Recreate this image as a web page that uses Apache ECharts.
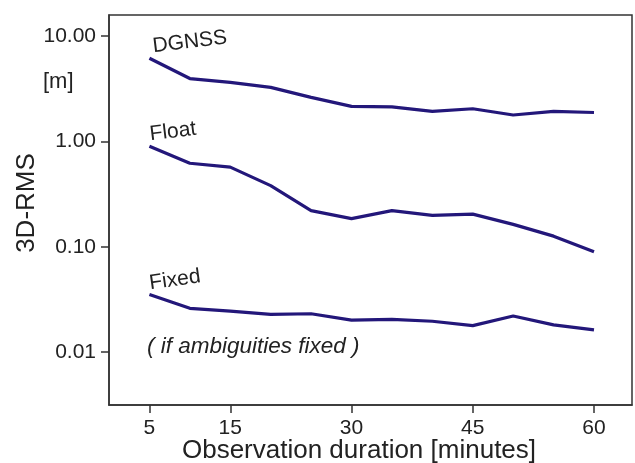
<!DOCTYPE html>
<html><head><meta charset="utf-8">
<script src="https://cdn.jsdelivr.net/npm/echarts@6/dist/echarts.min.js"></script>
<style>html,body{margin:0;padding:0;background:#fff}#c{width:635px;height:463px}</style>
</head><body><div id="c"></div>
<script>
const durations = [5,10,15,20,25,30,35,40,45,50,55,60];
const dgnss = [6.15,3.95,3.63,3.26,2.62,2.15,2.13,1.93,2.04,1.78,1.93,1.88];
const floatSol = [0.90,0.62,0.57,0.38,0.22,0.185,0.22,0.198,0.204,0.163,0.126,0.0896];
const fixedSol = [0.0352,0.026,0.0245,0.0228,0.0231,0.0201,0.0204,0.0196,0.0178,0.0220,0.0181,0.0162];
const xTicks = [5,15,30,45,60];
const yTicks = [0.01,0.1,1,10];
const FONT = 'Liberation Sans';
const C = '#23177a';
const chart = echarts.init(document.getElementById('c'));
const mk = (name, vals) => ({
  name, type:'line', data: durations.map((d,i)=>[d,vals[i]]),
  showSymbol:false, symbol:'none', smooth:false,
  lineStyle:{color:C,width:3.2}, itemStyle:{color:C}, animation:false
});
chart.setOption({
  animation:false,
  grid:{left:109,top:15,right:3,bottom:58,containLabel:false,outerBoundsMode:'none',
    show:true,borderColor:'#333',borderWidth:1.5},
  xAxis:{type:'value',min:0,max:64.7,
    axisLine:{show:true,lineStyle:{color:'#333',width:1.5}},
    axisTick:{show:true,length:8,customValues:xTicks,lineStyle:{color:'#333',width:1.5}},
    axisLabel:{customValues:xTicks,fontFamily:FONT,fontSize:21,color:'#222',margin:13},
    splitLine:{show:false}},
  yAxis:{type:'log',logBase:10,min:Math.pow(10,-2.503),max:Math.pow(10,1.2),
    axisLine:{show:true,lineStyle:{color:'#333',width:1.5}},
    axisTick:{show:true,length:8,customValues:yTicks,lineStyle:{color:'#333',width:1.5}},
    axisLabel:{customValues:yTicks,fontFamily:FONT,fontSize:21,color:'#222',margin:13,
      formatter:v=>Number(v).toFixed(2)},
    splitLine:{show:false},minorTick:{show:false}},
  graphic:[
    {type:'text',x:359,y:451,style:{text:'Observation duration [minutes]',font:'26px '+FONT,fill:'#222',textAlign:'center',textVerticalAlign:'middle'}},
    {type:'text',x:27,y:203,rotation:Math.PI/2,style:{text:'3D-RMS',font:'26px '+FONT,fill:'#222',textAlign:'center',textVerticalAlign:'middle'}},
    {type:'text',left:43,top:71,style:{text:'[m]',font:'22px '+FONT,fill:'#222'}},
    {type:'text',x:154,y:57,rotation:7*Math.PI/180,style:{text:'DGNSS',font:'21px '+FONT,fill:'#222',textVerticalAlign:'bottom'}},
    {type:'text',x:151,y:145,rotation:7*Math.PI/180,style:{text:'Float',font:'21px '+FONT,fill:'#222',textVerticalAlign:'bottom'}},
    {type:'text',x:151,y:294,rotation:8*Math.PI/180,style:{text:'Fixed',font:'21px '+FONT,fill:'#222',textVerticalAlign:'bottom'}},
    {type:'text',left:147,top:335,style:{text:'( if ambiguities fixed )',font:'italic 22.5px '+FONT,fill:'#222'}}
  ],
  series:[mk('DGNSS',dgnss),mk('Float',floatSol),mk('Fixed',fixedSol)]
});
</script></body></html>
